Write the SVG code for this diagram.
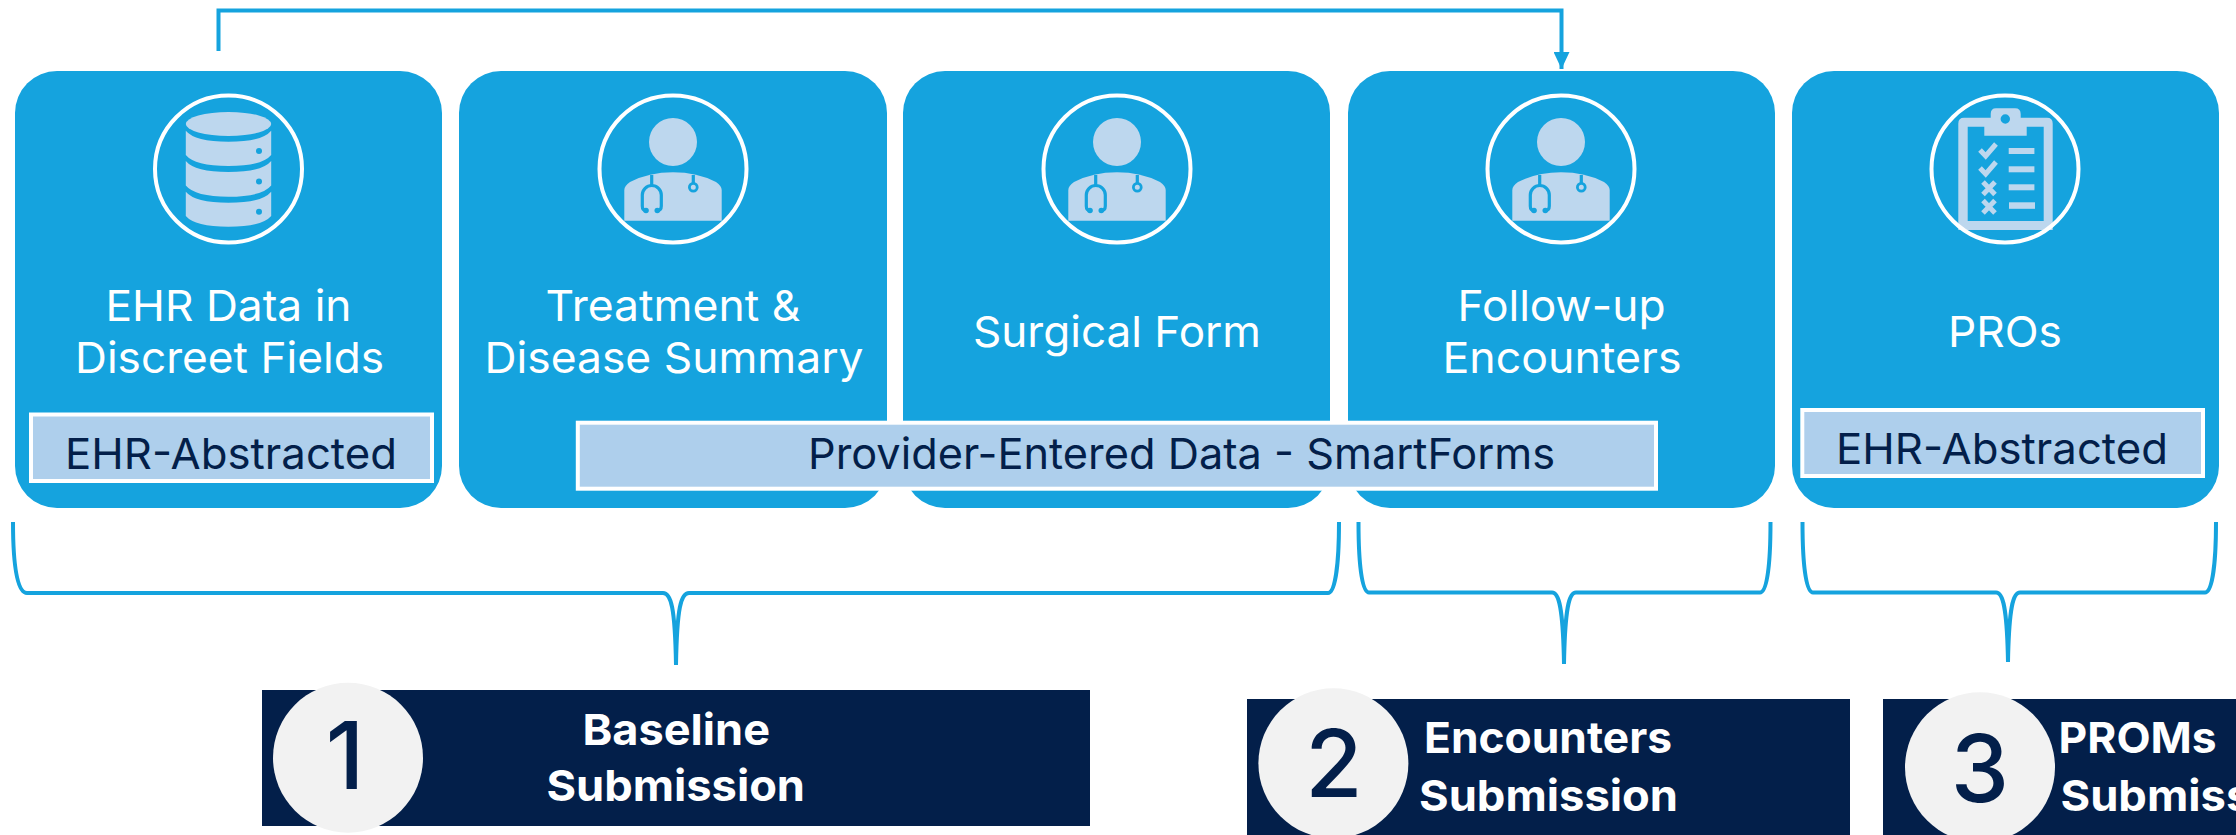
<svg xmlns="http://www.w3.org/2000/svg" width="2236" height="835" viewBox="0 0 2236 835">
<style>
.card{fill:#15a3de}
.ring{fill:none;stroke:#fff;stroke-width:4}
.ico{fill:#bdd7ee}
.cut{fill:none;stroke:#15a3de;stroke-width:3.200}
.tag{fill:#aecfec;stroke:#fff;stroke-width:4}
.conn{fill:none;stroke:#15a3de;stroke-width:4}
text{font-family:"Inter","Liberation Sans",sans-serif}
.lab{fill:#fff;font-size:43px}
.tagt{fill:#031f4a;font-size:43px}
.bar{fill:#031f4a}
.disc{fill:#f2f2f2}
.num{fill:#031f4a;font-size:93px;font-weight:500;text-anchor:middle}
.sub{fill:#fff;font-size:43px;font-weight:700}
</style>
<defs>
<marker id="arrow" markerUnits="userSpaceOnUse" markerWidth="17" markerHeight="16" refX="17" refY="8" orient="auto"><path d="M0 0L17 8L0 16Z" fill="#15a3de"/></marker>
<symbol id="doctor" overflow="visible">
<circle class="ico" cx="0" cy="142" r="24"/>
<path class="ico" d="M-48.700 220.700V190Q-48.700 186 -43 182Q-24 172.300 0 172.300Q24 172.300 43 182Q48.700 186 48.700 190V220.700Z"/>
<path class="cut" d="M-21.300 175V186M-27 210.500Q-30.700 210.500 -30.700 206V195A9.500 9.500 0 0 1 -11.700 195V206Q-11.700 210.500 -15.700 210.500M20.300 175V183"/>
<circle cx="-27" cy="210.500" r="2.800" fill="#15a3de"/><circle cx="-15.700" cy="210.500" r="2.800" fill="#15a3de"/>
<circle cx="20.300" cy="187.300" r="3.900" fill="none" stroke="#15a3de" stroke-width="2.800"/>
</symbol>
</defs>
<g id="connectors">
<path class="conn" d="M218.500 51V10.500H1561.500V69" marker-end="url(#arrow)"/>
<path id="brace-1" class="conn" d="M13 522C13 565 17 593 27 593H663C671 593 675 607 676 665C677 607 681 593 689 593H1328C1335 593 1339 565 1339 522"/>
<path id="brace-2" class="conn" d="M1358.500 522C1358.500 565 1362 592.500 1369 592.500H1552C1559 592.500 1563 607 1564 664C1565 607 1569 592.500 1576 592.500H1760C1767 592.500 1770.500 565 1770.500 522"/>
<path id="brace-3" class="conn" d="M1802.500 522C1802.500 565 1806 592.500 1813 592.500H1996C2003 592.500 2007 607 2008 662C2009 607 2013 592.500 2020 592.500H2205C2212 592.500 2216 565 2216 522"/>
</g>
<g id="node-ehr">
<rect class="card" x="15" y="71" width="427" height="437" rx="42"/>
<g class="ico">
<ellipse cx="228.500" cy="124" rx="42.700" ry="12"/>
<path d="M185.800 130.700Q195 141.700 228.500 141.700Q262 141.700 271.200 130.700V155Q262 166 228.500 166Q195 166 185.800 155Z"/>
<path d="M185.800 161Q195 172 228.500 172Q262 172 271.200 161V185.500Q262 196.700 228.500 196.700Q195 196.700 185.800 185.500Z"/>
<path d="M185.800 191.700Q195 202.700 228.500 202.700Q262 202.700 271.200 191.700V216Q262 226.700 228.500 226.700Q195 226.700 185.800 216Z"/>
</g>
<g fill="#15a3de"><circle cx="259" cy="151" r="3"/><circle cx="259" cy="181.500" r="3"/><circle cx="259" cy="211.700" r="3"/></g>
<circle class="ring" cx="228.500" cy="169" r="73.500"/>
<text class="lab" x="105.500" y="321" textLength="246" lengthAdjust="spacingAndGlyphs">EHR Data in</text>
<text class="lab" x="75" y="372.500" textLength="309" lengthAdjust="spacingAndGlyphs">Discreet Fields</text>
<rect class="tag" x="31" y="414.500" width="401" height="66.500"/>
<text class="tagt" x="65" y="468.500" textLength="332" lengthAdjust="spacingAndGlyphs">EHR-Abstracted</text>
</g>
<g id="node-treatment">
<rect class="card" x="459" y="71" width="428" height="437" rx="42"/>
<use href="#doctor" x="673" y="0"/>
<circle class="ring" cx="673" cy="169" r="73.500"/>
<text class="lab" x="545.500" y="321" textLength="255" lengthAdjust="spacingAndGlyphs">Treatment &amp;</text>
<text class="lab" x="484.500" y="372.500" textLength="379" lengthAdjust="spacingAndGlyphs">Disease Summary</text>
</g>
<g id="node-surgical">
<rect class="card" x="903" y="71" width="427" height="437" rx="42"/>
<use href="#doctor" x="1117" y="0"/>
<circle class="ring" cx="1117" cy="169" r="73.500"/>
<text class="lab" x="973" y="347" textLength="288" lengthAdjust="spacingAndGlyphs">Surgical Form</text>
</g>
<g id="node-followup">
<rect class="card" x="1348" y="71" width="427" height="437" rx="42"/>
<use href="#doctor" x="1561" y="0"/>
<circle class="ring" cx="1561" cy="169" r="73.500"/>
<text class="lab" x="1457.500" y="321" textLength="208" lengthAdjust="spacingAndGlyphs">Follow-up</text>
<text class="lab" x="1442.500" y="372.500" textLength="239" lengthAdjust="spacingAndGlyphs">Encounters</text>
</g>
<g id="node-pros">
<rect class="card" x="1792" y="71" width="427" height="437" rx="42"/>
<g class="ico">
<path fill-rule="evenodd" d="M1964 117.700H1990.700V114Q1990.700 108.300 1996 108.300H2015Q2020.700 108.300 2020.700 114V117.700H2047Q2052.700 117.700 2052.700 123.500V230H1958.300V123.500Q1958.300 117.700 1964 117.700ZM1967.700 126.700V221H2043.700V126.700H2026.700V135.700H1984.300V126.700ZM2005.300 114.300A4.700 4.700 0 1 0 2005.300 123.700A4.700 4.700 0 1 0 2005.300 114.300Z"/>
<rect x="2008.700" y="148" width="25.700" height="6"/><rect x="2008.700" y="166.300" width="25.700" height="6"/><rect x="2008.700" y="184.300" width="25.700" height="6"/><rect x="2009" y="202.300" width="26" height="6.500"/>
</g>
<path d="M1980 150L1985.700 156L1996 144M1980 168L1985.700 174L1996 162M1983 182L1995 194.500M1995 182L1983 194.500M1983 200.500L1995 213M1995 200.500L1983 213" fill="none" stroke="#bdd7ee" stroke-width="5"/>
<circle class="ring" cx="2005" cy="169" r="73.500"/>
<text class="lab" x="1948" y="347" textLength="114" lengthAdjust="spacingAndGlyphs">PROs</text>
<rect class="tag" x="1802.300" y="410" width="400.700" height="66"/>
<text class="tagt" x="1836" y="463.500" textLength="332" lengthAdjust="spacingAndGlyphs">EHR-Abstracted</text>
</g>
<g id="node-provider-entered">
<rect class="tag" x="577.800" y="422.700" width="1078.200" height="66"/>
<text class="tagt" x="808" y="468.500" textLength="747" lengthAdjust="spacingAndGlyphs">Provider-Entered Data - SmartForms</text>
</g>
<g id="node-baseline">
<rect class="bar" x="262" y="690" width="828" height="136"/>
<circle class="disc" cx="348" cy="757.700" r="75"/>
<text class="num" x="345" y="789.300">1</text>
<text class="sub" x="582.500" y="744.500" textLength="187.500" lengthAdjust="spacingAndGlyphs">Baseline</text>
<text class="sub" x="546.500" y="801.200" textLength="258.500" lengthAdjust="spacingAndGlyphs">Submission</text>
</g>
<g id="node-encounters">
<rect class="bar" x="1247" y="699" width="603" height="136"/>
<circle class="disc" cx="1333.400" cy="763.300" r="75"/>
<text class="num" x="1334" y="796.700">2</text>
<text class="sub" x="1424" y="752.800" textLength="248" lengthAdjust="spacingAndGlyphs">Encounters</text>
<text class="sub" x="1419" y="811.200" textLength="259" lengthAdjust="spacingAndGlyphs">Submission</text>
</g>
<g id="node-proms">
<rect class="bar" x="1883" y="699" width="353" height="136"/>
<circle class="disc" cx="1980" cy="767.300" r="75"/>
<text class="num" x="1980" y="801.700">3</text>
<text class="sub" x="2058.600" y="752.800" textLength="158" lengthAdjust="spacingAndGlyphs">PROMs</text>
<text class="sub" x="2060.500" y="811.200" textLength="259" lengthAdjust="spacingAndGlyphs">Submission</text>
</g>
</svg>
